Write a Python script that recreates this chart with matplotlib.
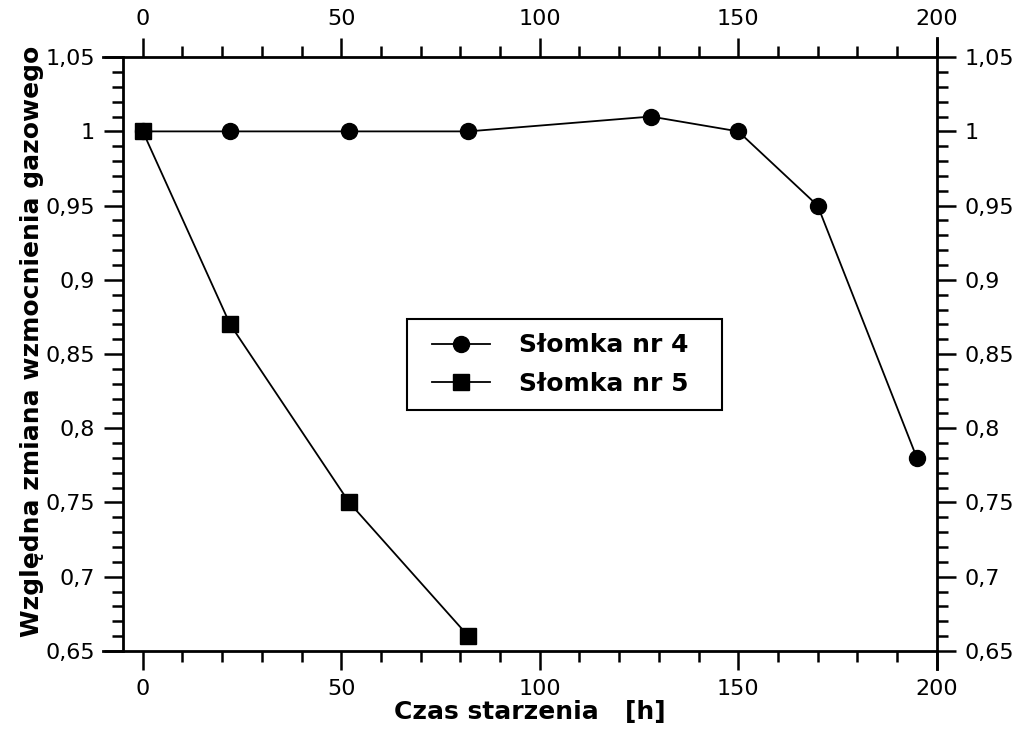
import numpy as np
import matplotlib.pyplot as plt
from matplotlib.ticker import MultipleLocator, FuncFormatter
from matplotlib.lines import Line2D
from matplotlib.legend_handler import HandlerLine2D

# czas starzenia [h] i względna zmiana wzmocnienia
czas_4 = [0, 22, 52, 82, 128, 150, 170, 195]
wzm_4 = [1.0, 1.0, 1.0, 1.0, 1.01, 1.0, 0.95, 0.78]
czas_5 = [0, 22, 52, 82]
wzm_5 = [1.0, 0.87, 0.75, 0.66]

plt.rcParams['font.family'] = ['DejaVu Sans']

fig = plt.figure(figsize=(10.16, 7.33), dpi=100)
ax = fig.add_axes([0.121, 0.112, 0.801, 0.810])

ax.plot(czas_4, wzm_4, 'k-', marker='o', markersize=11.5, lw=1.3, label='Słomka nr 4', clip_on=False, zorder=3)
ax.plot(czas_5, wzm_5, 'k-', marker='s', markersize=11.5, lw=1.3, label='Słomka nr 5', clip_on=False, zorder=3)

ax.set_xlim(-5, 200)
ax.set_ylim(0.65, 1.05)

ax.xaxis.set_major_locator(MultipleLocator(50))
ax.xaxis.set_minor_locator(MultipleLocator(10))
ax.yaxis.set_major_locator(MultipleLocator(0.05))
ax.yaxis.set_minor_locator(MultipleLocator(0.01))

def przecinek(v, pos):
    s = ('%.2f' % v).rstrip('0').rstrip('.')
    return s.replace('.', ',')

ax.yaxis.set_major_formatter(FuncFormatter(przecinek))

ax.tick_params(which='both', direction='out', top=True, right=True,
               labeltop=True, labelright=True, width=1.8, labelsize=16, pad=6)
ax.tick_params(which='major', length=14)
ax.tick_params(which='minor', length=8)

for s in ax.spines.values():
    s.set_linewidth(2.0)
# osie poziome wydłużone w lewo, prawa oś wydłużona w górę i w dół
ax.spines['bottom'].set_bounds(-10, 200)
ax.spines['top'].set_bounds(-10, 200)
ax.spines['right'].set_bounds(0.638, 1.063)

ax.set_xlabel('Czas starzenia   [h]', fontsize=18, fontweight='bold', labelpad=1)
ax.set_ylabel('Względna zmiana wzmocnienia gazowego', fontsize=18, fontweight='bold')
ax.yaxis.set_label_coords(-0.097, 0.522)

leg = ax.legend(loc='upper left', bbox_to_anchor=(0.349, 0.3, 0.387, 0.259), mode='expand',
                borderaxespad=0, fancybox=False, edgecolor='black', framealpha=1,
                prop={'weight': 'bold', 'size': 18},
                handler_map={Line2D: HandlerLine2D(xpad=0.44)},
                handlelength=2.76, borderpad=0.57, labelspacing=0.58, handletextpad=1.16)
leg.get_frame().set_linewidth(1.5)

fig.savefig('out.png', dpi=100)
